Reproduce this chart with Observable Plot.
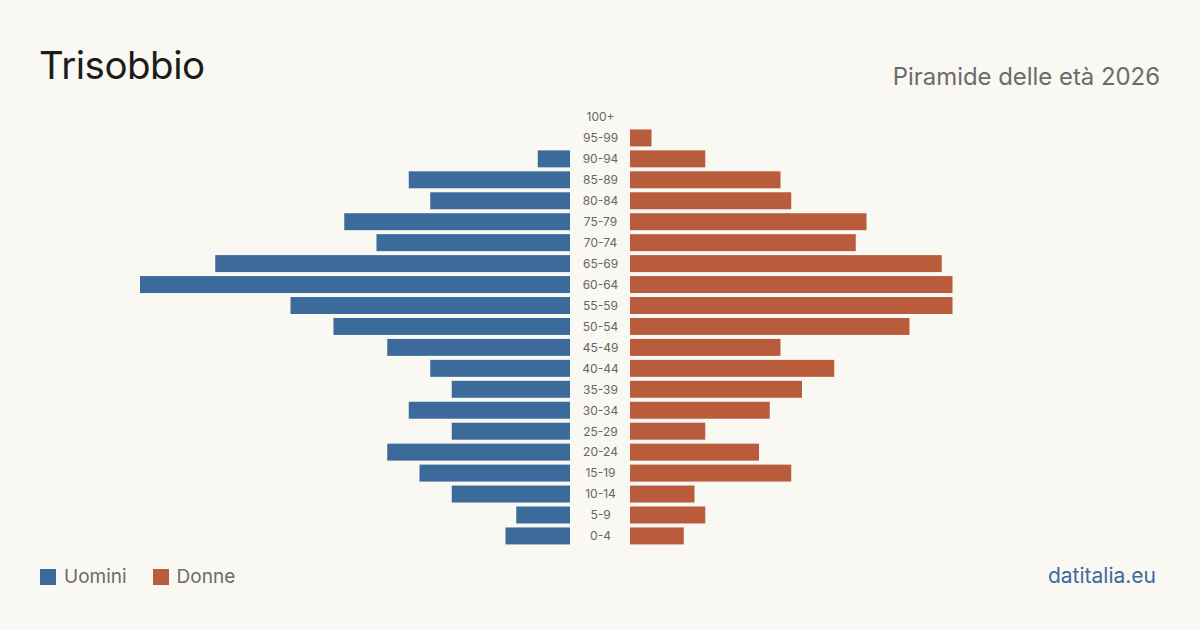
<!DOCTYPE html>
<html><head><meta charset="utf-8">
<script src="https://cdn.jsdelivr.net/npm/d3@7"></script>
<script src="https://cdn.jsdelivr.net/npm/@observablehq/plot@0.6"></script>
<style>
html,body{margin:0;padding:0;background:#f9f8f3;}
body{width:1200px;height:630px;position:relative;overflow:hidden;font-family:Inter,"Noto Sans",sans-serif;}
#title{position:absolute;left:39px;top:46px;font-size:38.5px;color:#1c1c1c;line-height:1;letter-spacing:-0.5px;}
#subtitle{position:absolute;right:40px;top:65px;font-size:23.9px;color:#6b6b6b;line-height:1;}
#chart{position:absolute;left:0;top:100px;}
#legend{position:absolute;left:40px;top:567px;font-size:19px;color:#6b6b6b;display:flex;align-items:center;line-height:20px;}
.sw{width:16px;height:16px;display:inline-block;margin-right:8px;}
.item{display:flex;align-items:center;margin-right:26px;}
#source{position:absolute;right:44px;top:565px;font-size:21px;color:#3d6a9c;line-height:22px;}
</style></head>
<body>
<div id="title">Trisobbio</div>
<div id="subtitle">Piramide delle età 2026</div>
<div id="chart"></div>
<div id="legend"><span class="item"><span class="sw" style="background:#3b6a9b"></span>Uomini</span><span class="item"><span class="sw" style="background:#b95c3b"></span>Donne</span></div>
<div id="source">datitalia.eu</div>
<script>
const ageGroups = ["100+","95-99","90-94","85-89","80-84","75-79","70-74","65-69","60-64","55-59","50-54","45-49","40-44","35-39","30-34","25-29","20-24","15-19","10-14","5-9","0-4"];
const men   = [0,0,3,15,13,21,18,33,40,26,22,17,13,11,15,11,17,14,11,5,6];
const women = [0,2,7,14,15,22,21,29,30,30,26,14,19,16,13,7,12,15,6,7,5];
const gap = 30 / 10.75; // half of central label gap, in data units
const maxV = 40;

const rows = [];
ageGroups.forEach((a, i) => {
  if (men[i] > 0) rows.push({age: a, sex: "Uomini", x1: -gap, x2: -gap - men[i]});
  if (women[i] > 0) rows.push({age: a, sex: "Donne", x1: gap, x2: gap + women[i]});
});

const chart = Plot.plot({
  width: 1200,
  height: 460,
  marginLeft: 140,
  marginRight: 140,
  marginTop: 4.5,
  marginBottom: 11.6,
  style: {background: "transparent", fontFamily: "Inter, 'Noto Sans', sans-serif"},
  x: {domain: [-(maxV + gap), maxV + gap], axis: null},
  y: {domain: ageGroups, axis: null, padding: 0.19, round: false},
  color: {domain: ["Uomini", "Donne"], range: ["#3b6a9b", "#b95c3b"]},
  marks: [
    Plot.barX(rows, {y: "age", x1: "x1", x2: "x2", fill: "sex"}),
    Plot.text(ageGroups, {x: 0, y: d => d, text: d => d, fontSize: 12, fill: "#666", textAnchor: "middle"})
  ]
});
document.getElementById("chart").appendChild(chart);
</script>
</body></html>
